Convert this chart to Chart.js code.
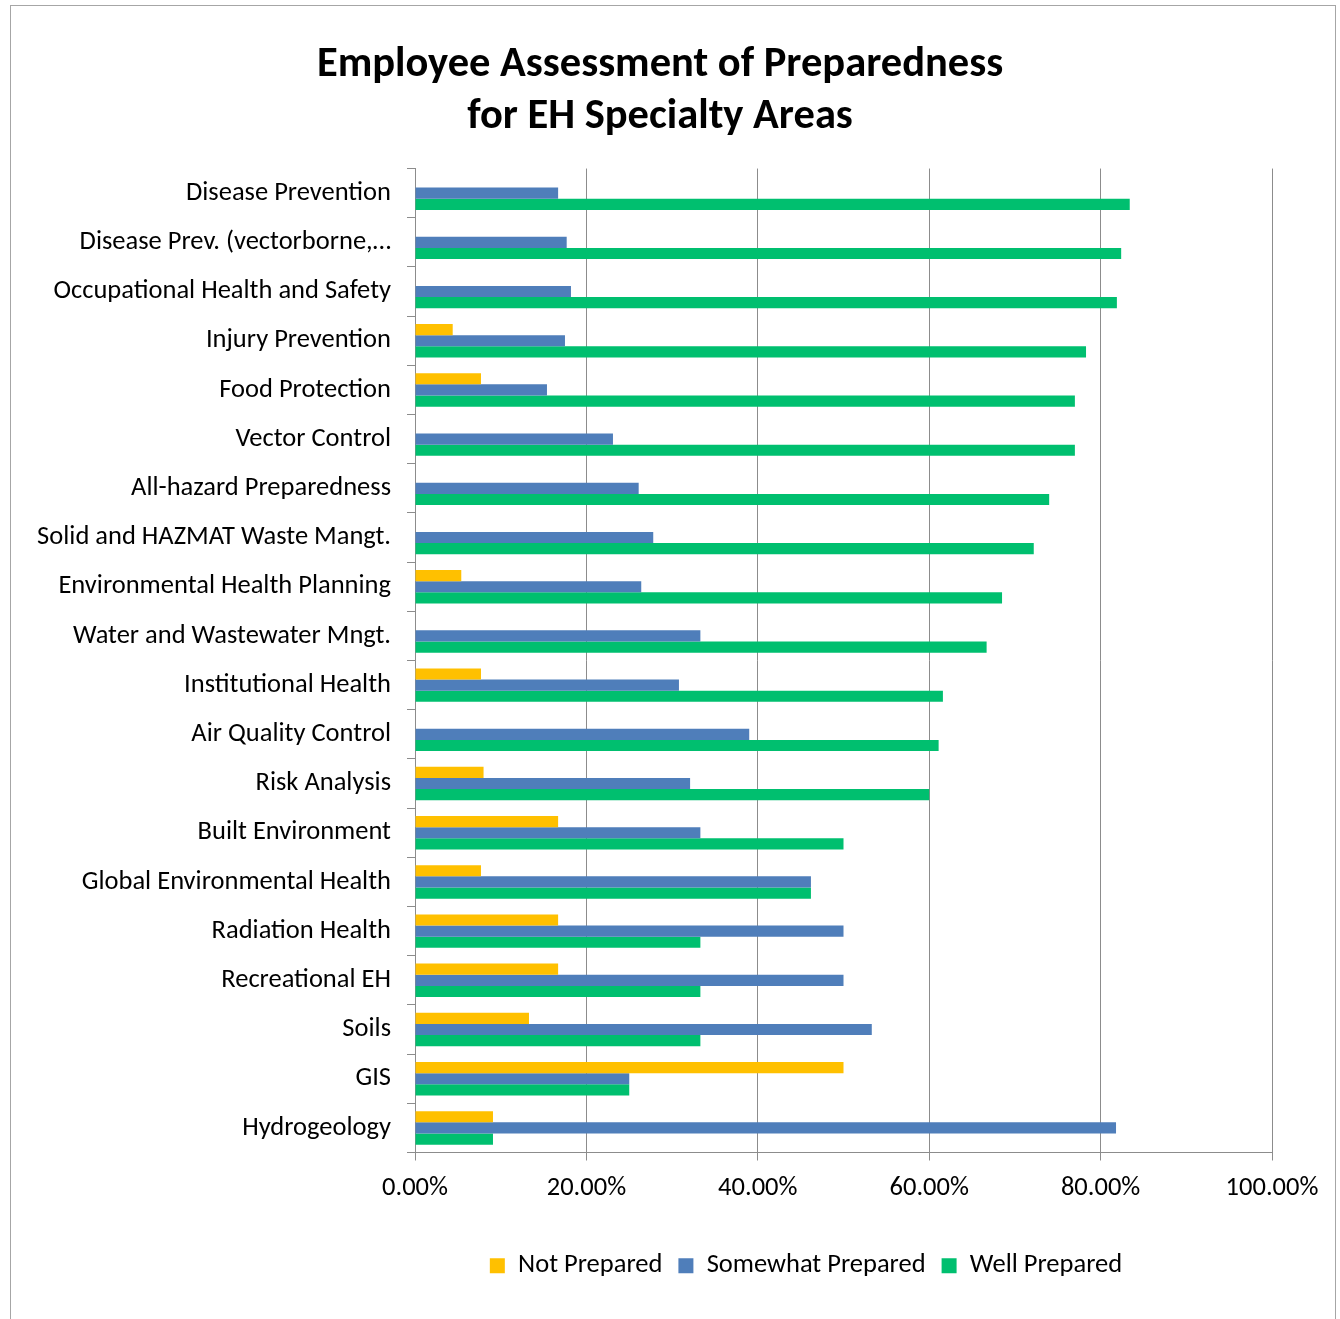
<!DOCTYPE html>
<html>
<head>
<meta charset="utf-8">
<script src="https://cdn.jsdelivr.net/npm/chart.js@4.4.1/dist/chart.umd.min.js"></script>
<style>
  body { margin: 0; background: #fff; }
  #frame { position: absolute; left: 10px; top: 5px; width: 1324px; height: 1330px; border: 1px solid #a6a6a6; }
  #wrap { position: absolute; left: 0; top: 0; width: 1340px; height: 1319px; }
</style>
</head>
<body>
<div id="frame"></div>
<div id="wrap"><canvas id="prep-chart" width="1340" height="1319"></canvas></div>
<script>
/* Chart data */
let areas = [
    'Disease Prevention',
    'Disease Prev. (vectorborne,…',
    'Occupational Health and Safety',
    'Injury Prevention',
    'Food Protection',
    'Vector Control',
    'All-hazard Preparedness',
    'Solid and HAZMAT Waste Mangt.',
    'Environmental Health Planning',
    'Water and Wastewater Mngt.',
    'Institutional Health',
    'Air Quality Control',
    'Risk Analysis',
    'Built Environment',
    'Global Environmental Health',
    'Radiation Health',
    'Recreational EH',
    'Soils',
    'GIS',
    'Hydrogeology'
]

let notPrepared = [0, 0, 0, 0.044, 0.077, 0, 0, 0, 0.054, 0, 0.077, 0, 0.08, 0.167, 0.077, 0.167, 0.167, 0.133, 0.5, 0.091]
let somewhatPrepared = [0.167, 0.177, 0.182, 0.175, 0.154, 0.231, 0.261, 0.278, 0.264, 0.333, 0.308, 0.39, 0.321, 0.333, 0.462, 0.5, 0.5, 0.533, 0.25, 0.818]
let wellPrepared = [0.834, 0.824, 0.819, 0.783, 0.77, 0.77, 0.74, 0.722, 0.685, 0.667, 0.616, 0.611, 0.6, 0.5, 0.462, 0.333, 0.333, 0.333, 0.25, 0.091]

let xTicks = [0, 0.2, 0.4, 0.6, 0.8, 1.0]

let fontFamily = "Carlito, Lato, 'Open Sans', sans-serif"

// Title is centred on the whole frame and the legend sits right of centre
// in the original, so nudge both boxes after layout
let boxShift = {
    id: 'boxShift',
    afterLayout: function(chart) {
        chart.titleBlock.left += 19
        chart.titleBlock.right += 19
        chart.legend.left += 165
        chart.legend.right += 165
    }
}

let ctx = document.querySelector('#prep-chart').getContext('2d')

let prepChart = new Chart(ctx, {
    type: 'bar',
    data: {
        labels: areas,
        datasets: [
            { label: 'Not Prepared', data: notPrepared, backgroundColor: '#FFC000' },
            { label: 'Somewhat Prepared', data: somewhatPrepared, backgroundColor: '#4F7EBA' },
            { label: 'Well Prepared', data: wellPrepared, backgroundColor: '#00BF6F' }
        ]
    },
    plugins: [boxShift],
    options: {
        indexAxis: 'y',
        responsive: false,
        animation: false,
        layout: { padding: { left: 10, right: 68, top: 0, bottom: 30 } },
        datasets: {
            bar: { barPercentage: 1, categoryPercentage: 0.68 }
        },
        plugins: {
            title: {
                display: true,
                text: ['Employee Assessment of Preparedness', 'for EH Specialty Areas'],
                color: '#000',
                font: { family: fontFamily, size: 42.5, weight: 'bold', lineHeight: 1.23 },
                padding: { top: 39, bottom: 25 }
            },
            legend: {
                position: 'bottom',
                labels: {
                    color: '#000',
                    font: { family: fontFamily, size: 26.5 },
                    boxWidth: 15,
                    boxHeight: 15,
                    padding: 16
                }
            },
            tooltip: { enabled: false }
        },
        scales: {
            x: {
                min: 0,
                max: 1,
                afterBuildTicks: function(scale) {
                    scale.ticks = xTicks.map(v => ({ value: v }))
                },
                ticks: {
                    color: '#000',
                    font: { family: fontFamily, size: 26.5 },
                    padding: 12,
                    callback: v => (v * 100).toFixed(2) + '%'
                },
                grid: { color: '#8c8c8c', lineWidth: 1, tickLength: 8 },
                border: { color: '#8c8c8c' },
                afterFit: function(scale) { scale.height = 84 }
            },
            y: {
                ticks: {
                    color: '#000',
                    font: { family: fontFamily, size: 26.5 },
                    padding: 16,
                    autoSkip: false
                },
                grid: { drawOnChartArea: false, color: '#8c8c8c', tickLength: 8 },
                border: { color: '#8c8c8c' },
                afterFit: function(scale) { scale.width = 405 }
            }
        }
    }
})
</script>
</body>
</html>
